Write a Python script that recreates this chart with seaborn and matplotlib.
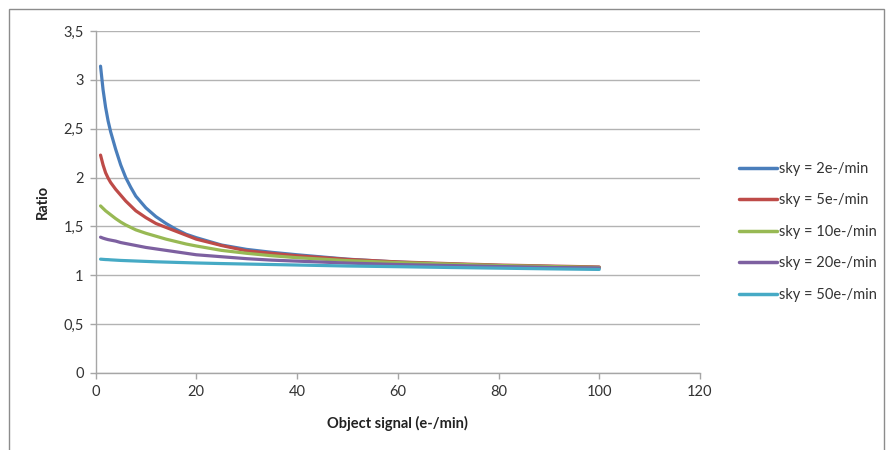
import matplotlib
matplotlib.use("Agg")
import matplotlib.pyplot as plt
import seaborn as sns
import pandas as pd
from matplotlib.patches import Rectangle

# ---- data ----
signal = [1, 1.5, 2, 2.5, 3, 4, 5, 6, 7, 8, 10, 12, 14, 16, 18, 20, 25, 30, 35, 40, 50, 60, 70, 80, 90, 100]
sky2 = [3.14, 2.90, 2.72, 2.58, 2.47, 2.29, 2.13, 2.00, 1.90, 1.81, 1.69, 1.60, 1.53, 1.47, 1.42, 1.385,
        1.31, 1.265, 1.235, 1.21, 1.165, 1.135, 1.115, 1.10, 1.09, 1.08]
sky5 = [2.23, 2.13, 2.05, 1.995, 1.95, 1.88, 1.82, 1.76, 1.71, 1.66, 1.59, 1.53, 1.49, 1.45, 1.41, 1.37,
        1.305, 1.25, 1.225, 1.20, 1.163, 1.137, 1.12, 1.105, 1.095, 1.085]
sky10 = [1.71, 1.685, 1.66, 1.64, 1.62, 1.58, 1.545, 1.515, 1.49, 1.465, 1.43, 1.40, 1.37, 1.345, 1.32, 1.30,
         1.255, 1.225, 1.20, 1.18, 1.15, 1.13, 1.115, 1.10, 1.09, 1.08]
sky20 = [1.39, 1.38, 1.372, 1.365, 1.36, 1.35, 1.335, 1.325, 1.315, 1.305, 1.285, 1.27, 1.255, 1.24, 1.225, 1.21,
         1.19, 1.17, 1.155, 1.145, 1.125, 1.11, 1.10, 1.09, 1.08, 1.075]
sky50 = [1.165, 1.163, 1.161, 1.16, 1.158, 1.155, 1.152, 1.15, 1.148, 1.146, 1.142, 1.138, 1.135, 1.132, 1.129,
         1.126, 1.12, 1.115, 1.11, 1.105, 1.095, 1.088, 1.08, 1.073, 1.066, 1.06]
series_labels = ["sky = 2e-/min", "sky = 5e-/min", "sky = 10e-/min", "sky = 20e-/min", "sky = 50e-/min"]
series_values = [sky2, sky5, sky10, sky20, sky50]
x_ticks = [0, 20, 40, 60, 80, 100, 120]
y_ticks = [0, 0.5, 1, 1.5, 2, 2.5, 3, 3.5]
y_tick_labels = ["0", "0,5", "1", "1,5", "2", "2,5", "3", "3,5"]
x_label = "Object signal (e-/min)"
y_label = "Ratio"

colors = ["#4A7EBB", "#BE4B48", "#98B954", "#7D60A0", "#46AAC5"]

rows = []
for lab, vals in zip(series_labels, series_values):
    for s, v in zip(signal, vals):
        rows.append({"signal": s, "ratio": v, "sky": lab})
df = pd.DataFrame(rows)

sns.set_theme(style="white")
plt.rcParams["font.family"] = ["Lato", "DejaVu Sans"]

fig = plt.figure(figsize=(8.9, 4.5), dpi=100)
ax = fig.add_axes([95.5 / 890, 1 - 373 / 450, (700 - 95.5) / 890, (373 - 31) / 450])

sns.lineplot(data=df, x="signal", y="ratio", hue="sky", hue_order=series_labels,
             palette=colors, linewidth=2.3, ax=ax, sort=False, estimator=None)
for line in ax.get_lines():
    line.set_solid_joinstyle("round")

ax.set_xlim(0, 120)
ax.set_ylim(0, 3.5)
ax.set_xticks(x_ticks)
ax.set_xticklabels([str(t) for t in x_ticks])
ax.set_yticks(y_ticks)
ax.set_yticklabels(y_tick_labels)
ax.yaxis.grid(True, color="#b3b3b3", linewidth=1.0)
ax.xaxis.grid(False)
ax.set_axisbelow(True)

for side in ["top", "right"]:
    ax.spines[side].set_visible(False)
for side in ["left", "bottom"]:
    ax.spines[side].set_color("#a6a6a6")
    ax.spines[side].set_linewidth(1.0)

ax.tick_params(axis="both", which="major", length=4.5, width=1.0, color="#a6a6a6",
               labelsize=10.5, labelcolor="#333333", direction="out", left=True, bottom=True, pad=4)

ax.set_xlabel(x_label, fontsize=10.5, fontweight="bold", color="#222222", labelpad=12)
ax.set_ylabel(y_label, fontsize=10.5, fontweight="bold", color="#222222", labelpad=10)

leg = ax.legend(loc="upper left", bbox_to_anchor=(733 / 890, 1 - 156 / 450), bbox_transform=fig.transFigure,
                frameon=False, fontsize=10.5, handlelength=2.6, handletextpad=0.15, labelspacing=1.2,
                borderaxespad=0)
for line in leg.get_lines():
    line.set_linewidth(2.5)
for t in leg.get_texts():
    t.set_color("#333333")

fig.patches.append(Rectangle((9 / 890, -0.1), (884 - 9) / 890, 1.1 - 9 / 450, transform=fig.transFigure,
                             fill=False, edgecolor="#8c8c8c", linewidth=1.0, zorder=0))

fig.savefig("out.png", dpi=100, facecolor="white")
